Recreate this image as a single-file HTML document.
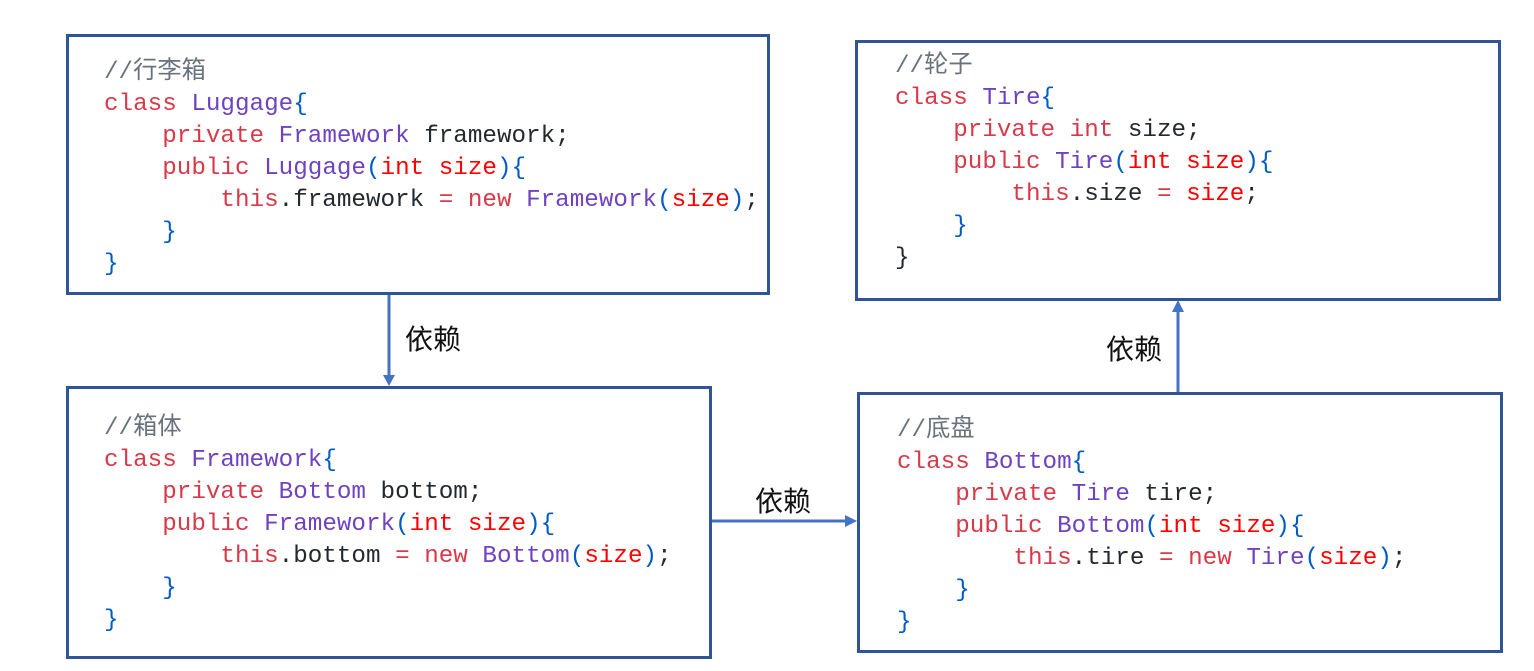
<!DOCTYPE html>
<html><head><meta charset="utf-8"><style>
body{margin:0;width:1534px;height:671px;background:#fff;position:relative;overflow:hidden}
.box{position:absolute;border:3px solid #2f5597;box-sizing:border-box}
pre{position:absolute;margin:0;font-family:"Liberation Mono","Noto Sans CJK SC",monospace;font-size:24.25px;line-height:32px;color:#24292e}
.k{color:#d73a49}.p{color:#6f42c1}.r{color:#ff0000}.b{color:#005cc5}.c{color:#6a737d}
.lbl{position:absolute;font-family:"Liberation Sans","Noto Sans CJK SC",sans-serif;font-size:28px;color:#111;line-height:1}
</style></head><body>
<div class="box" style="left:66px;top:34px;width:704px;height:261px"></div>
<div class="box" style="left:66px;top:386px;width:646px;height:273px"></div>
<div class="box" style="left:855px;top:40px;width:646px;height:261px"></div>
<div class="box" style="left:857px;top:392px;width:646px;height:261px"></div>

<pre style="left:104px;top:57px"><span class="c">//行李箱</span>
<span class="k">class</span> <span class="p">Luggage</span><span class="b">{</span>
    <span class="k">private</span> <span class="p">Framework</span> framework;
    <span class="k">public</span> <span class="p">Luggage</span><span class="b">(</span><span class="r">int size</span><span class="b">){</span>
        <span class="k">this</span>.framework <span class="k">=</span> <span class="k">new</span> <span class="p">Framework</span><span class="b">(</span><span class="r">size</span><span class="b">)</span>;
    <span class="b">}</span>
<span class="b">}</span></pre>

<pre style="left:104px;top:413px"><span class="c">//箱体</span>
<span class="k">class</span> <span class="p">Framework</span><span class="b">{</span>
    <span class="k">private</span> <span class="p">Bottom</span> bottom;
    <span class="k">public</span> <span class="p">Framework</span><span class="b">(</span><span class="r">int size</span><span class="b">){</span>
        <span class="k">this</span>.bottom <span class="k">=</span> <span class="k">new</span> <span class="p">Bottom</span><span class="b">(</span><span class="r">size</span><span class="b">)</span>;
    <span class="b">}</span>
<span class="b">}</span></pre>

<pre style="left:895px;top:51px"><span class="c">//轮子</span>
<span class="k">class</span> <span class="p">Tire</span><span class="b">{</span>
    <span class="k">private</span> <span class="k">int</span> size;
    <span class="k">public</span> <span class="p">Tire</span><span class="b">(</span><span class="r">int size</span><span class="b">){</span>
        <span class="k">this</span>.size <span class="k">=</span> <span class="r">size</span>;
    <span class="b">}</span>
}</pre>

<pre style="left:897px;top:415px"><span class="c">//底盘</span>
<span class="k">class</span> <span class="p">Bottom</span><span class="b">{</span>
    <span class="k">private</span> <span class="p">Tire</span> tire;
    <span class="k">public</span> <span class="p">Bottom</span><span class="b">(</span><span class="r">int size</span><span class="b">){</span>
        <span class="k">this</span>.tire <span class="k">=</span> <span class="k">new</span> <span class="p">Tire</span><span class="b">(</span><span class="r">size</span><span class="b">)</span>;
    <span class="b">}</span>
<span class="b">}</span></pre>

<svg style="position:absolute;left:0;top:0" width="1534" height="671">
<g stroke="#4472c4" stroke-width="3" fill="#4472c4">
<line x1="389" y1="295" x2="389" y2="376"/>
<polygon points="383,375 395,375 389,386" stroke="none"/>
<line x1="712" y1="521" x2="846" y2="521"/>
<polygon points="845,515 845,527 857,521" stroke="none"/>
<line x1="1178" y1="392" x2="1178" y2="311"/>
<polygon points="1172,312 1184,312 1178,300" stroke="none"/>
</g></svg>
<div class="lbl" style="left:405px;top:326px">依赖</div>
<div class="lbl" style="left:755px;top:488px">依赖</div>
<div class="lbl" style="left:1106px;top:336px">依赖</div>
</body></html>
